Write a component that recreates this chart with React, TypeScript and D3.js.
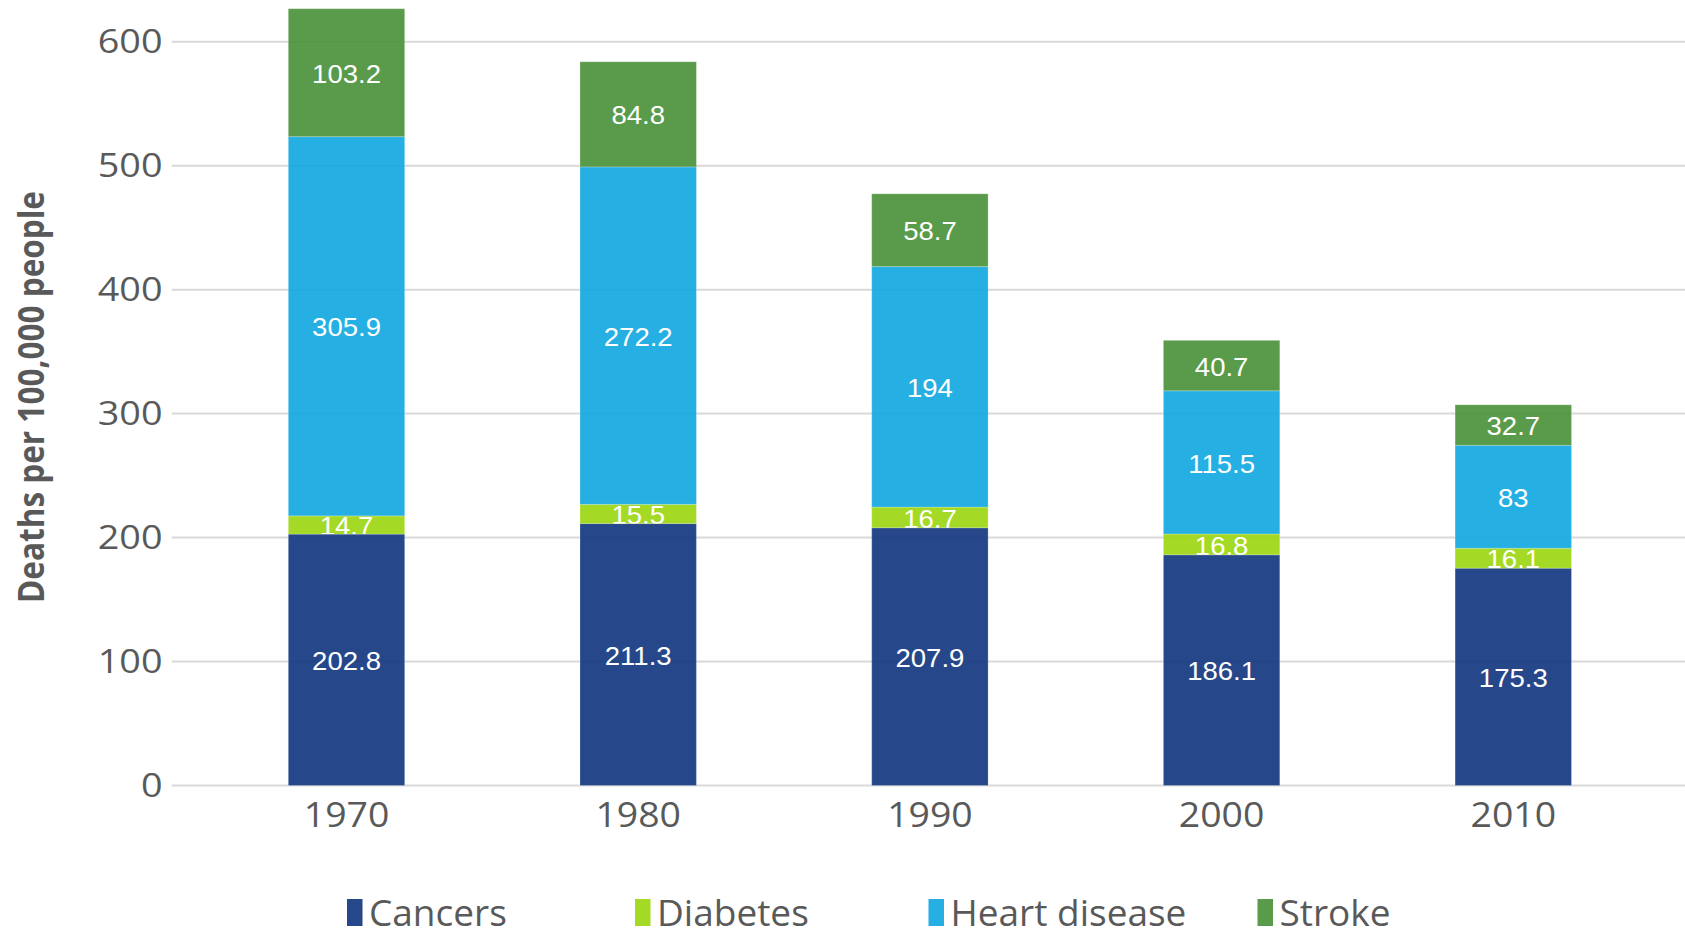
import React from "react";
import * as d3 from "d3";

// Deaths per 100,000 people by cause, stacked per decade
const years = ["1970", "1980", "1990", "2000", "2010"];
const cancers = [202.8, 211.3, 207.9, 186.1, 175.3];
const diabetes = [14.7, 15.5, 16.7, 16.8, 16.1];
const heartDisease = [305.9, 272.2, 194, 115.5, 83];
const stroke = [103.2, 84.8, 58.7, 40.7, 32.7];
const yTicks = [0, 100, 200, 300, 400, 500, 600];

const seriesNames = ["Cancers", "Diabetes", "Heart disease", "Stroke"];
const seriesColors = ["#143880", "#9CD712", "#14A8E1", "#4B923B"];

const W = 1685;
const H = 929;

export default function App() {
  const rows = years.map((year, i) => ({
    year,
    Cancers: cancers[i],
    Diabetes: diabetes[i],
    "Heart disease": heartDisease[i],
    Stroke: stroke[i],
  }));

  const stack = d3.stack<any>().keys(seriesNames);
  const layers = stack(rows);

  const x = d3
    .scaleBand<string>()
    .domain(years)
    .range([200.8, 1659])
    .paddingInner(0.601)
    .paddingOuter(0.3);

  const y = d3.scaleLinear().domain([0, 600]).range([785.5, 41.7]);

  const gridLeft = 171.7;
  const labelSize = 25.5;
  const capHalf = labelSize * 0.358;

  const legendX = [347, 635, 928.5, 1257.5];

  return (
    <svg
      width={W}
      height={H}
      style={{ position: "absolute", left: 0, top: 0, background: "#fff" }}
    >
      <defs>
        {layers.map((layer, si) =>
          layer.map((d, i) => (
            <clipPath id={`clip-${si}-${i}`} key={`c-${si}-${i}`}>
              <rect
                x={x(years[i])! - 5}
                y={y(d[1]) - 12}
                width={x.bandwidth() + 10}
                height={y(d[0]) - y(d[1]) + 12}
              />
            </clipPath>
          ))
        )}
      </defs>

      {/* horizontal gridlines */}
      {yTicks.map((t) => (
        <line
          key={`g${t}`}
          x1={gridLeft}
          x2={W}
          y1={y(t)}
          y2={y(t)}
          stroke="#d9d9d9"
          strokeWidth={2}
        />
      ))}

      {/* y tick labels */}
      {yTicks.map((t) => (
        <text
          key={`yt${t}`}
          transform={`translate(162.5,${y(t) + 11.5}) scale(1.18,1)`}
          textAnchor="end"
          fontFamily="'Open Sans', sans-serif"
          fontSize={32}
          fill="#595959"
        >
          {t}
        </text>
      ))}

      {/* stacked bars */}
      {layers.map((layer, si) => (
        <g key={`s${si}`}>
          {layer.map((d, i) => (
            <rect
              key={`r${si}-${i}`}
              x={x(years[i])}
              y={y(d[1])}
              width={x.bandwidth()}
              height={y(d[0]) - y(d[1])}
              fill={seriesColors[si]}
              fillOpacity={0.92}
              stroke="#ffffff"
              strokeOpacity={0.22}
              strokeWidth={1}
            />
          ))}
        </g>
      ))}

      {/* value labels, each kept inside the bottom edge of its own segment */}
      {layers.map((layer, si) => (
        <g key={`l${si}`}>
          {layer.map((d, i) => {
            const cx = x(years[i])! + x.bandwidth() / 2;
            const cy = (y(d[0]) + y(d[1])) / 2 + 1;
            return (
              <g key={`t${si}-${i}`} clipPath={`url(#clip-${si}-${i})`}>
                <text
                  transform={`translate(${cx},${cy + capHalf}) scale(1.08,1)`}
                  textAnchor="middle"
                  fontFamily="'Liberation Sans', Arial, sans-serif"
                  fontSize={labelSize}
                  fill="#ffffff"
                >
                  {String(d.data[seriesNames[si]])}
                </text>
              </g>
            );
          })}
        </g>
      ))}

      {/* x tick labels */}
      {years.map((yr) => (
        <text
          key={`xt${yr}`}
          transform={`translate(${x(yr)! + x.bandwidth() / 2},826.7) scale(1.1,1)`}
          textAnchor="middle"
          fontFamily="'Open Sans', sans-serif"
          fontSize={34}
          fill="#595959"
        >
          {yr}
        </text>
      ))}

      {/* y axis title */}
      <text
        transform={`translate(43.5,397) rotate(-90)`}
        textAnchor="middle"
        fontFamily="'Open Sans', sans-serif"
        fontWeight="bold"
        fontSize={35}
        fill="#595959"
        textLength={412}
        lengthAdjust="spacingAndGlyphs"
      >
        Deaths per 100,000 people
      </text>

      {/* legend */}
      {seriesNames.map((name, si) => (
        <g key={`lg${si}`} transform={`translate(${legendX[si]},0)`}>
          <rect x={0} y={899} width={15.5} height={27} fill={seriesColors[si]} fillOpacity={0.92} />
          <text
            x={22}
            y={925.7}
            fontFamily="'Open Sans', sans-serif"
            fontSize={37}
            fill="#595959"
          >
            {name}
          </text>
        </g>
      ))}
    </svg>
  );
}
